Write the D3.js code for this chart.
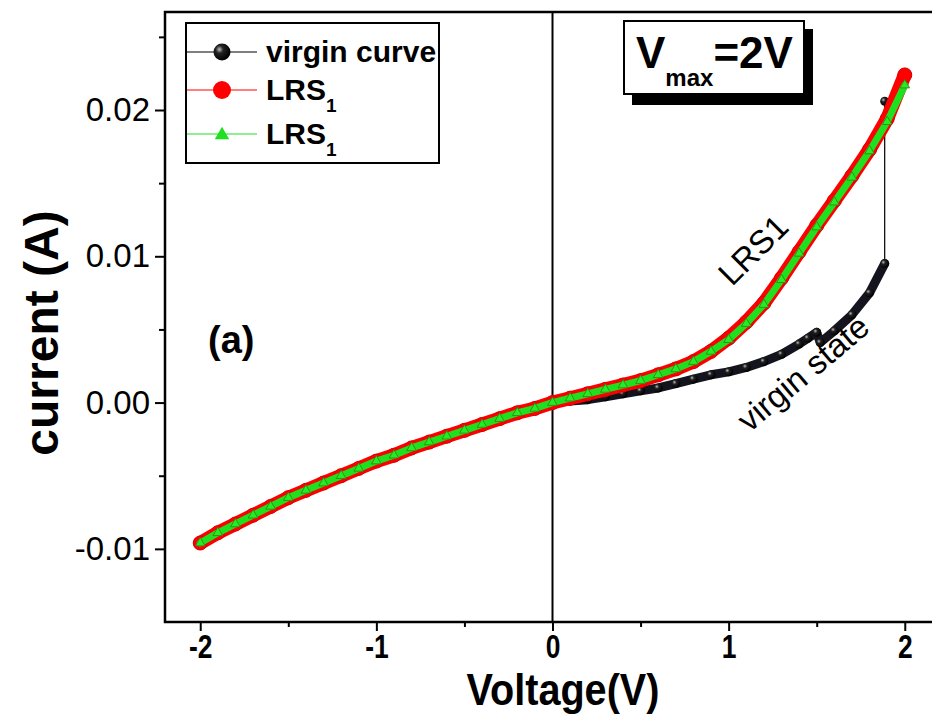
<!DOCTYPE html>
<html>
<head>
<meta charset="utf-8">
<script src="https://cdn.jsdelivr.net/npm/d3@7"></script>
<style>
  body { margin: 0; background: #fff; }
  text { font-family: "Liberation Sans", Arial, sans-serif; }
</style>
</head>
<body>
<script>
// Data (voltage in V, current in A)
const lrsVoltage = [-2.0, -1.9, -1.8, -1.7, -1.6, -1.5, -1.4, -1.3, -1.2, -1.1, -1.0,
    -0.9, -0.8, -0.7, -0.6, -0.5, -0.4, -0.3, -0.2, -0.1, 0.0,
    0.1, 0.2, 0.3, 0.4, 0.5, 0.6, 0.7, 0.8, 0.9, 1.0,
    1.1, 1.2, 1.3, 1.4, 1.5, 1.6, 1.7, 1.8, 1.9, 2.0];
const lrsRedCurrent = [-0.0096, -0.0089, -0.0083, -0.0077, -0.0071, -0.0065, -0.0060, -0.0055, -0.0050, -0.0045, -0.0040,
    -0.0036, -0.0031, -0.0027, -0.0023, -0.0019, -0.0015, -0.0011, -0.0007, -0.0004, 0.0000,
    0.0003, 0.0006, 0.0009, 0.0012, 0.0015, 0.0019, 0.0023, 0.0028, 0.0035, 0.0044,
    0.0055, 0.0068, 0.0085, 0.0103, 0.0121, 0.0138, 0.0155, 0.0173, 0.0194, 0.0224];
const lrsGreenCurrent = [-0.0096, -0.0089, -0.0083, -0.0077, -0.0071, -0.0065, -0.0060, -0.0055, -0.0050, -0.0045, -0.0040,
    -0.0036, -0.0031, -0.0027, -0.0023, -0.0019, -0.0015, -0.0011, -0.0007, -0.0004, 0.0000,
    0.0003, 0.0006, 0.0009, 0.0012, 0.0015, 0.0019, 0.0023, 0.0028, 0.0035, 0.0043,
    0.0054, 0.0067, 0.0084, 0.0102, 0.0120, 0.0137, 0.0154, 0.0172, 0.0192, 0.0217];
const virginVoltage = [0.0, 0.1, 0.2, 0.3, 0.4, 0.5, 0.6, 0.7, 0.8, 0.9, 1.0,
    1.1, 1.2, 1.3, 1.4, 1.45, 1.5, 1.52, 1.6, 1.7, 1.8, 1.886, 1.886];
const virginCurrent = [0.0, 0.0001, 0.0002, 0.0004, 0.0006, 0.0008, 0.0010, 0.0013, 0.0016, 0.0019, 0.0021,
    0.0024, 0.0028, 0.0033, 0.0040, 0.0044, 0.0048, 0.0041, 0.0049, 0.0060, 0.0075, 0.0095, 0.0206];

const xTicks = [-2, -1, 0, 1, 2];
const xMinorTicks = [-1.5, -0.5, 0.5, 1.5];
const yTicks = [-0.01, 0.00, 0.01, 0.02];
const yMinorTicks = [-0.005, 0.005, 0.015, 0.025];
const legendLabels = ['virgin curve', 'LRS', 'LRS'];

// Set up the SVG canvas dimensions
const width = 932;
const height = 715;
const plot = { left: 165, right: 940, top: 12, bottom: 622 };

const svg = d3.select('body')
    .append('svg')
    .attr('width', width)
    .attr('height', height);

const xScale = d3.scaleLinear()
    .domain([-2.2, 2.2])
    .range([plot.left, plot.right]);

const yScale = d3.scaleLinear()
    .domain([-0.015, 0.0267])
    .range([plot.bottom, plot.top]);

// Shading for the black balls
const defs = svg.append('defs');
const grad = defs.append('radialGradient')
    .attr('id', 'ball')
    .attr('cx', '35%').attr('cy', '35%').attr('r', '65%');
grad.append('stop').attr('offset', '0%').attr('stop-color', '#bbb');
grad.append('stop').attr('offset', '35%').attr('stop-color', '#222');
grad.append('stop').attr('offset', '100%').attr('stop-color', '#000');

// Axes (ticks point outward)
const xAxis = svg.append('g')
    .attr('transform', `translate(0, ${plot.bottom})`)
    .call(d3.axisBottom(xScale).tickValues(xTicks).tickSize(9).tickFormat(''));
xAxis.select('.domain').remove();
xAxis.selectAll('line').attr('stroke-width', 2);
// condensed tick labels, drawn through the same scale
xAxis.selectAll('.tick')
    .append('text')
    .attr('fill', '#000')
    .attr('transform', 'translate(0, 36) scale(0.8, 1)')
    .attr('text-anchor', 'middle')
    .attr('font-size', 33)
    .attr('font-weight', 'bold')
    .text(d => d < 0 ? '-' + Math.abs(d) : d);

svg.append('g')
    .attr('transform', `translate(0, ${plot.bottom})`)
    .call(d3.axisBottom(xScale).tickValues(xMinorTicks).tickSize(5).tickFormat(''))
    .call(g => g.select('.domain').remove())
    .selectAll('line').attr('stroke-width', 2);

const yAxis = svg.append('g')
    .attr('transform', `translate(${plot.left}, 0)`)
    .call(d3.axisLeft(yScale).tickValues(yTicks).tickSize(10).tickPadding(5)
        .tickFormat(d => d3.format('.2f')(d).replace('−', '-')));
yAxis.select('.domain').remove();
yAxis.selectAll('line').attr('stroke-width', 2);
yAxis.selectAll('text')
    .attr('font-size', 33)
    .attr('font-family', '"Liberation Sans", Arial, sans-serif');

svg.append('g')
    .attr('transform', `translate(${plot.left}, 0)`)
    .call(d3.axisLeft(yScale).tickValues(yMinorTicks).tickSize(6).tickFormat(''))
    .call(g => g.select('.domain').remove())
    .selectAll('line').attr('stroke-width', 2);

// Frame
svg.append('rect')
    .attr('x', plot.left)
    .attr('y', plot.top)
    .attr('width', plot.right - plot.left)
    .attr('height', plot.bottom - plot.top)
    .attr('fill', 'none')
    .attr('stroke', '#000')
    .attr('stroke-width', 2.5);

// Zero line
svg.append('line')
    .attr('x1', xScale(0)).attr('x2', xScale(0))
    .attr('y1', plot.top).attr('y2', plot.bottom)
    .attr('stroke', '#000')
    .attr('stroke-width', 2);

const line = d3.line()
    .x(d => xScale(d[0]))
    .y(d => yScale(d[1]));

const virgin = d3.zip(virginVoltage, virginCurrent);
const lrsRed = d3.zip(lrsVoltage, lrsRedCurrent);
const lrsGreen = d3.zip(lrsVoltage, lrsGreenCurrent);

// virgin curve: thin connecting line, dense band of markers
svg.append('path')
    .attr('d', line(virgin))
    .attr('fill', 'none')
    .attr('stroke', '#000')
    .attr('stroke-width', 1.2);

svg.append('path')
    .attr('d', line(virgin.slice(0, -1)))
    .attr('fill', 'none')
    .attr('stroke', '#14141e')
    .attr('stroke-width', 9)
    .attr('stroke-linejoin', 'round')
    .attr('stroke-linecap', 'round');

svg.selectAll('.virgin-dot')
    .data(virgin)
    .enter()
    .append('circle')
    .attr('class', 'virgin-dot')
    .attr('cx', d => xScale(d[0]))
    .attr('cy', d => yScale(d[1]))
    .attr('r', 4.5)
    .attr('fill', 'url(#ball)');

// LRS1 (red circles)
svg.append('path')
    .attr('d', line(lrsRed))
    .attr('fill', 'none')
    .attr('stroke', '#f00')
    .attr('stroke-width', 14)
    .attr('stroke-linejoin', 'round')
    .attr('stroke-linecap', 'round');

svg.selectAll('.red-dot')
    .data(lrsRed)
    .enter()
    .append('circle')
    .attr('class', 'red-dot')
    .attr('cx', d => xScale(d[0]))
    .attr('cy', d => yScale(d[1]))
    .attr('r', 7)
    .attr('fill', '#f00')
    .attr('stroke', '#d00')
    .attr('stroke-width', 1);

// LRS1 (green triangles)
svg.append('path')
    .attr('d', line(lrsGreen))
    .attr('fill', 'none')
    .attr('stroke', '#1ee01e')
    .attr('stroke-width', 7)
    .attr('stroke-linejoin', 'round')
    .attr('stroke-linecap', 'round');

const triangle = d3.symbol().type(d3.symbolTriangle).size(40);
svg.selectAll('.green-tri')
    .data(lrsGreen)
    .enter()
    .append('path')
    .attr('class', 'green-tri')
    .attr('d', triangle)
    .attr('transform', d => `translate(${xScale(d[0])},${yScale(d[1])})`)
    .attr('fill', '#22ee22')
    .attr('stroke', '#3a7a1a')
    .attr('stroke-width', 0.8);

// Legend
const legendBox = { x: 186, y: 23, w: 253, h: 140 };
svg.append('rect')
    .attr('x', legendBox.x).attr('y', legendBox.y)
    .attr('width', legendBox.w).attr('height', legendBox.h)
    .attr('fill', '#fff')
    .attr('stroke', '#000')
    .attr('stroke-width', 2);

const legendRows = [
    { y: 52, color: '#000', marker: 'ball' },
    { y: 90, color: '#f00', marker: 'circle' },
    { y: 134, color: '#1ee01e', marker: 'triangle' }
];

const legend = svg.selectAll('.legend')
    .data(legendRows)
    .enter()
    .append('g')
    .attr('class', 'legend')
    .attr('transform', d => `translate(0, ${d.y})`);

legend.append('line')
    .attr('x1', 187).attr('x2', 257)
    .attr('stroke', d => d.color)
    .attr('stroke-width', 1.2);

legend.filter(d => d.marker === 'ball').append('circle')
    .attr('cx', 222).attr('r', 8.5)
    .attr('fill', 'url(#ball)');

legend.filter(d => d.marker === 'circle').append('circle')
    .attr('cx', 222).attr('r', 9)
    .attr('fill', '#f00');

legend.filter(d => d.marker === 'triangle').append('path')
    .attr('d', d3.symbol().type(d3.symbolTriangle).size(90))
    .attr('transform', 'translate(222, 1)')
    .attr('fill', '#1ee01e');

const legendText = legend.append('text')
    .attr('x', 266)
    .attr('y', 10)
    .attr('font-size', 30)
    .attr('font-weight', 'bold')
    .text((d, i) => legendLabels[i]);

legendText.filter((d, i) => i > 0)
    .append('tspan')
    .attr('font-size', 19)
    .attr('dy', 12)
    .text('1');

// V_max box
svg.append('rect')
    .attr('x', 632).attr('y', 29)
    .attr('width', 181).attr('height', 76)
    .attr('fill', '#000');
svg.append('rect')
    .attr('x', 624).attr('y', 21)
    .attr('width', 180).attr('height', 73)
    .attr('fill', '#fff')
    .attr('stroke', '#000')
    .attr('stroke-width', 2);

const vmax = svg.append('text')
    .attr('x', 636)
    .attr('y', 68)
    .attr('font-size', 44)
    .attr('font-weight', 'bold');
vmax.append('tspan').text('V');
vmax.append('tspan').attr('font-size', 24).attr('dy', 18).text('max');
vmax.append('tspan').attr('dy', -18).text('=2V');

// Annotations
svg.append('text')
    .attr('x', 208)
    .attr('y', 353)
    .attr('font-size', 38)
    .attr('font-weight', 'bold')
    .text('(a)');

svg.append('text')
    .attr('transform', 'translate(753, 250) rotate(-45)')
    .attr('text-anchor', 'middle')
    .attr('dy', '0.35em')
    .attr('font-size', 33)
    .text('LRS1');

svg.append('text')
    .attr('transform', 'translate(803, 373) rotate(-40)')
    .attr('text-anchor', 'middle')
    .attr('dy', '0.35em')
    .attr('font-size', 33)
    .text('virgin state');

// Axis labels
svg.append('text')
    .attr('transform', 'translate(563, 705) scale(0.9, 1)')
    .attr('text-anchor', 'middle')
    .attr('font-size', 44)
    .attr('font-weight', 'bold')
    .text('Voltage(V)');

svg.append('text')
    .attr('transform', `translate(58, 333) rotate(-90)`)
    .attr('text-anchor', 'middle')
    .attr('font-size', 48)
    .attr('font-weight', 'bold')
    .text('current (A)');
</script>
</body>
</html>
